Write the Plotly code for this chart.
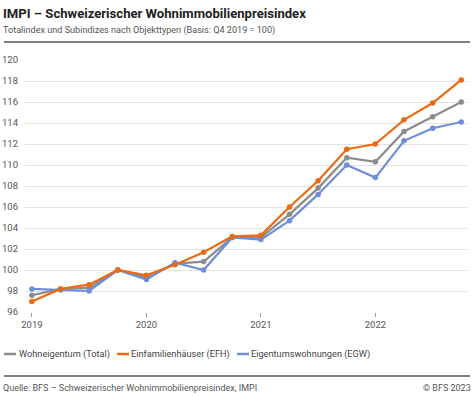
import plotly.graph_objects as go

# ---- data ----
quarters = [2019.0, 2019.25, 2019.5, 2019.75,
            2020.0, 2020.25, 2020.5, 2020.75,
            2021.0, 2021.25, 2021.5, 2021.75,
            2022.0, 2022.25, 2022.5, 2022.75]
total = [97.6, 98.2, 98.3, 100.0, 99.3, 100.6, 100.8, 103.1,
         103.1, 105.3, 107.8, 110.7, 110.3, 113.2, 114.6, 116.0]
efh = [97.0, 98.2, 98.6, 100.0, 99.5, 100.5, 101.7, 103.2,
       103.3, 106.0, 108.5, 111.5, 112.0, 114.3, 115.9, 118.1]
egw = [98.2, 98.1, 98.0, 100.0, 99.1, 100.7, 100.0, 103.1,
       102.9, 104.7, 107.2, 110.0, 108.8, 112.3, 113.5, 114.1]
series_names = ["Wohneigentum (Total)", "Einfamilienhäuser (EFH)", "Eigentumswohnungen (EGW)"]
x_tick_vals = [2019, 2020, 2021, 2022]
x_tick_text = ["2019", "2020", "2021", "2022"]
y_tick_vals = [96, 98, 100, 102, 104, 106, 108, 110, 112, 114, 116, 118, 120]

title = "IMPI – Schweizerischer Wohnimmobilienpreisindex"
subtitle = "Totalindex und Subindizes nach Objekttypen (Basis: Q4 2019 = 100)"
source = "Quelle: BFS – Schweizerischer Wohnimmobilienpreisindex, IMPI"
copyright_txt = "© BFS 2023"

colors = ["#8c8c8c", "#ea6b14", "#6f8ed8"]
W, H = 474, 396
FONT = "Roboto, Arial, sans-serif"

fig = go.Figure()
# draw order: total, egw, efh (orange on top in most places)
for vals, name, col in [(total, series_names[0], colors[0]),
                        (egw, series_names[2], colors[2]),
                        (efh, series_names[1], colors[1])]:
    fig.add_trace(go.Scatter(
        x=quarters, y=vals, name=name, mode="lines+markers",
        line=dict(color=col, width=2.2),
        marker=dict(color=col, size=5.5),
        showlegend=False, cliponaxis=False,
    ))

ml, mr, mt, mb = 25, 7, 60, 84
fig.update_layout(
    width=W, height=H,
    margin=dict(l=ml, r=mr, t=mt, b=mb, pad=0, autoexpand=False),
    paper_bgcolor="white", plot_bgcolor="white",
    font=dict(family=FONT, color="#555555", size=10),
    showlegend=False,
    xaxis=dict(range=[2018.94, 2022.80], tickvals=x_tick_vals, ticktext=x_tick_text,
               showgrid=False, zeroline=False, showline=False, automargin=False,
               ticks="outside", ticklen=4, tickwidth=1, tickcolor="#999999",
               tickfont=dict(size=9.5, color="#555555")),
    yaxis=dict(range=[96, 120], tickvals=y_tick_vals, automargin=False,
               showgrid=True, gridcolor="#e3e3e3", gridwidth=1,
               zeroline=False, showline=False, ticks="",
               ticklabelstandoff=6,
               tickfont=dict(size=9.5, color="#555555")),
)

# header / footer separator lines
for yy in [42, 376]:
    fig.add_shape(type="line", xref="paper", yref="paper",
                  x0=(4 - ml) / (W - ml - mr), x1=(470 - ml) / (W - ml - mr),
                  y0=(H - mb - yy) / (H - mt - mb), y1=(H - mb - yy) / (H - mt - mb),
                  line=dict(color="#555555", width=1.5))

def px_x(px):
    return (px - ml) / (W - ml - mr)

def px_y(py):
    return (H - mb - py) / (H - mt - mb)

anns = [
    dict(text="<b>" + title + "</b>", x=px_x(1), y=px_y(14), xanchor="left", yanchor="middle",
         font=dict(size=13.1, color="#222222")),
    dict(text=subtitle, x=px_x(1), y=px_y(31), xanchor="left", yanchor="middle",
         font=dict(size=9.1, color="#555555")),
    dict(text=source, x=px_x(1), y=px_y(388), xanchor="left", yanchor="middle",
         font=dict(size=9, color="#555555")),
    dict(text=copyright_txt, x=px_x(473), y=px_y(388), xanchor="right", yanchor="middle",
         font=dict(size=9, color="#555555")),
]

# manual legend
leg_y = 354
leg_items = [(series_names[0], colors[0], 4, 17),
             (series_names[1], colors[1], 117, 129),
             (series_names[2], colors[2], 237, 249)]
for name, col, lx, tx in leg_items:
    fig.add_shape(type="line", xref="paper", yref="paper",
                  x0=px_x(lx), x1=px_x(lx + 12), y0=px_y(leg_y), y1=px_y(leg_y),
                  line=dict(color=col, width=2.5))
    anns.append(dict(text=name, x=px_x(tx), y=px_y(leg_y), xanchor="left", yanchor="middle",
                     font=dict(size=9.2, color="#444444")))

for a in anns:
    a.update(xref="paper", yref="paper", showarrow=False)
    fig.add_annotation(**a)

fig.write_html("out.html", config={"displayModeBar": False},
               post_script="document.body.style.margin='0';document.body.style.padding='0';")
